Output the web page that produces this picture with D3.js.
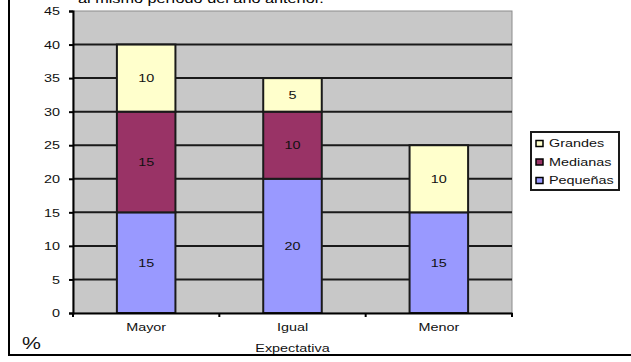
<!DOCTYPE html>
<html>
<head>
<meta charset="utf-8">
<script src="https://cdn.jsdelivr.net/npm/d3@7"></script>
<style>
  body { margin: 0; background: #fff; }
  svg { display: block; font-family: "Liberation Sans", Arial, sans-serif; }
</style>
</head>
<body>
<div id="chart"></div>
<script>
// data
var categories = ["Mayor", "Igual", "Menor"];
var pequenas = [15, 20, 15];
var medianas = [15, 10, 0];
var grandes = [10, 5, 10];
var seriesNames = ["Pequeñas", "Medianas", "Grandes"];
var seriesColors = ["#9999ff", "#993366", "#ffffcc"];
var yTicks = [0, 5, 10, 15, 20, 25, 30, 35, 40, 45];

var W = 631, H = 362;
var margin = {top: 11, right: 119, bottom: 49, left: 73};
var width = W - margin.left - margin.right,
    height = H - margin.top - margin.bottom;

// the original text looks wide, stretch it a bit
var STRETCH = 1.25;
function widen(sel) {
  sel.each(function() {
    var len = this.getComputedTextLength();
    d3.select(this).attr("textLength", len * STRETCH)
      .attr("lengthAdjust", "spacingAndGlyphs");
  });
}

var svg = d3.select("#chart").append("svg")
    .attr("width", W).attr("height", H);

// outer frame (left and bottom visible)
svg.append("line").attr("x1", 9).attr("x2", 9).attr("y1", 0).attr("y2", 355)
  .attr("stroke", "#000").attr("stroke-width", 2);
svg.append("line").attr("x1", 8).attr("x2", W).attr("y1", 355).attr("y2", 355)
  .attr("stroke", "#000").attr("stroke-width", 2);

// cut-off title line
svg.append("text")
  .attr("x", 78).attr("y", 3)
  .attr("font-size", 13).attr("fill", "#000")
  .text("al mismo período del año anterior.")
  .call(widen);

var g = svg.append("g")
  .attr("transform", "translate(" + margin.left + "," + margin.top + ")");

var x = d3.scaleBand().domain(categories).range([0, width]);
var y = d3.scaleLinear().domain([0, 45]).range([height, 0]);

// plot background
g.append("rect").attr("width", width).attr("height", height)
  .attr("fill", "#c8c8c8").attr("stroke", "#8c8c8c").attr("stroke-width", 1);

// gridlines
g.selectAll(".grid").data(yTicks.filter(function(d){ return d > 0 && d < 45; }))
  .enter().append("line")
  .attr("x1", 0).attr("x2", width)
  .attr("y1", function(d){ return y(d); }).attr("y2", function(d){ return y(d); })
  .attr("stroke", "#1a1a1a").attr("stroke-width", 2);

// stacked bars
var table = categories.map(function(c, i) {
  return {cat: c, "Pequeñas": pequenas[i], "Medianas": medianas[i], "Grandes": grandes[i]};
});
var stack = d3.stack().keys(seriesNames)(table);
var bw = x.bandwidth() * 0.4;

stack.forEach(function(layer, k) {
  var lg = g.append("g");
  var segs = layer.filter(function(d){ return d[1] - d[0] > 0; });
  lg.selectAll("rect").data(segs).enter().append("rect")
    .attr("x", function(d){ return x(d.data.cat) + (x.bandwidth() - bw) / 2; })
    .attr("y", function(d){ return y(d[1]); })
    .attr("width", bw)
    .attr("height", function(d){ return y(d[0]) - y(d[1]); })
    .attr("fill", seriesColors[k])
    .attr("stroke", "#1a1a1a").attr("stroke-width", 2);
  lg.selectAll("text").data(segs).enter().append("text")
    .attr("x", function(d){ return x(d.data.cat) + x.bandwidth() / 2; })
    .attr("y", function(d){ return (y(d[0]) + y(d[1])) / 2 + 4; })
    .attr("text-anchor", "middle").attr("font-size", 11.5).attr("fill", "#111")
    .text(function(d){ return d[1] - d[0]; })
    .call(widen);
});

// y axis
var yAxis = g.append("g")
  .call(d3.axisLeft(y).tickValues(yTicks).tickSize(4).tickPadding(9));
yAxis.select(".domain").attr("stroke", "#000").attr("stroke-width", 2);
yAxis.selectAll(".tick line").attr("stroke", "#000").attr("stroke-width", 2);
yAxis.selectAll("text").attr("font-size", 11.5).attr("fill", "#111")
  .attr("font-family", "Liberation Sans, Arial, sans-serif")
  .call(widen);

// x axis
var xAxis = g.append("g").attr("transform", "translate(0," + height + ")")
  .call(d3.axisBottom(x).tickSize(0).tickPadding(10));
xAxis.select(".domain").attr("stroke", "#000").attr("stroke-width", 2);
xAxis.selectAll("text").attr("font-size", 11.5).attr("fill", "#111")
  .attr("font-family", "Liberation Sans, Arial, sans-serif")
  .call(widen);
g.selectAll(".xtick").data(d3.range(categories.length + 1))
  .enter().append("line")
  .attr("x1", function(i){ return i * x.step(); })
  .attr("x2", function(i){ return i * x.step(); })
  .attr("y1", height).attr("y2", height + 4)
  .attr("stroke", "#000").attr("stroke-width", 2);

// axis titles
svg.append("text").attr("x", margin.left + width / 2).attr("y", 352)
  .attr("text-anchor", "middle").attr("font-size", 11.5).attr("fill", "#111")
  .text("Expectativa")
  .call(widen);
svg.append("text").attr("x", 22).attr("y", 349)
  .attr("font-size", 17).attr("fill", "#111")
  .text("%")
  .call(widen);

// legend
var leg = svg.append("g").attr("transform", "translate(531,132)");
leg.append("rect").attr("width", 88).attr("height", 58)
  .attr("fill", "#fff").attr("stroke", "#1a1a1a").attr("stroke-width", 2);
var legOrder = [2, 1, 0];
legOrder.forEach(function(k, i) {
  var ly = 9 + i * 18.5;
  leg.append("rect").attr("x", 5).attr("y", ly - 0.5).attr("width", 7).attr("height", 6)
    .attr("fill", seriesColors[k]).attr("stroke", "#000").attr("stroke-width", 1.5);
  leg.append("text").attr("x", 18).attr("y", ly + 6)
    .attr("font-size", 11.5).attr("fill", "#111")
    .text(seriesNames[k])
    .call(widen);
});
</script>
</body>
</html>
